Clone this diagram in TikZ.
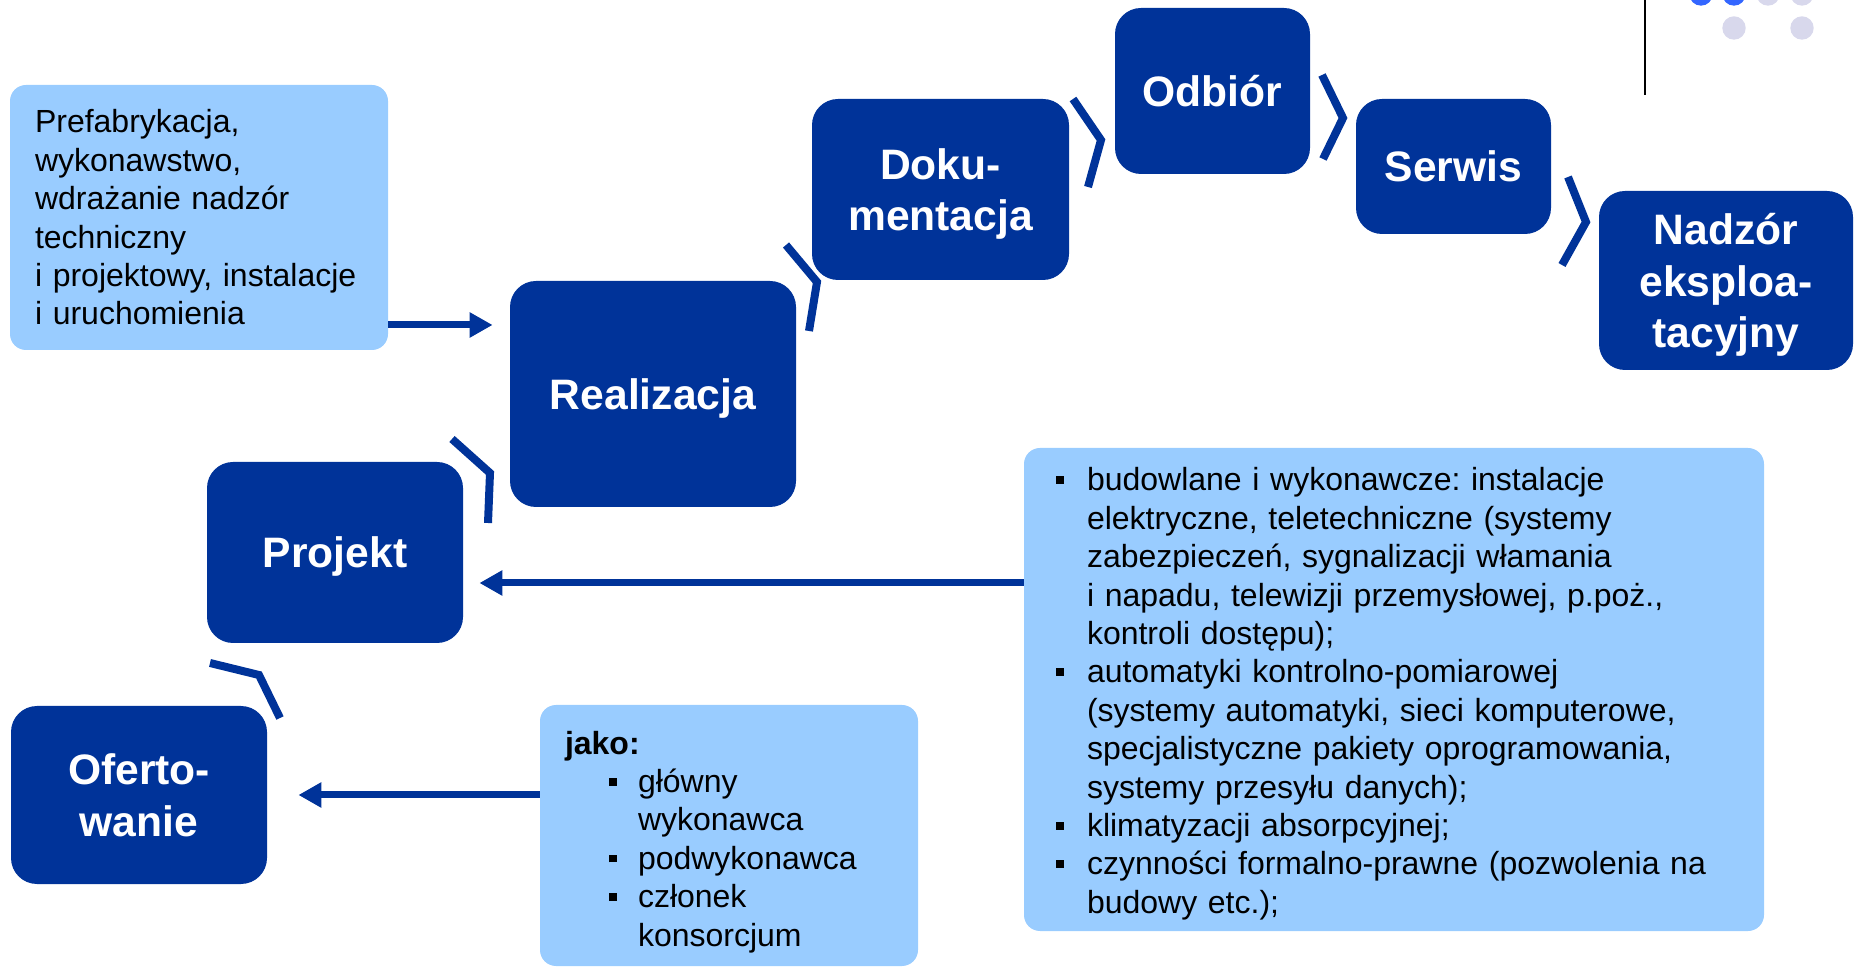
\documentclass[tikz,border=0pt]{standalone}
\usepackage{fontspec}
\setmainfont{Liberation Sans}
\usepackage{xcolor}
\definecolor{phaseblue}{RGB}{0,51,153}
\definecolor{noteblue}{RGB}{153,204,255}
\definecolor{dotblue}{RGB}{51,102,255}
\definecolor{dotgrey}{RGB}{216,216,236}
\usetikzlibrary{arrows.meta}
\newcommand{\sqbullet}[1]{\makebox[#1][l]{\rule[3.5pt]{3.8pt}{3.8pt}}}
\frenchspacing

\begin{document}
\begin{tikzpicture}[
    x=0.5pt, y=-0.5pt,
    phase/.style={rectangle, fill=phaseblue, rounded corners=13pt, text=white, align=center, inner sep=0pt, text depth=0pt, font={\fontsize{21.3}{25.7}\selectfont\bfseries}},
    note/.style={rectangle, fill=noteblue, rounded corners=8pt, align=left, inner ysep=0pt, font={\fontsize{16}{19.2}\selectfont}},
    arrow/.style={-{Triangle[length=11.5pt,width=12pt]}, line width=3.5pt, phaseblue},
    chev/.style={line width=4pt, phaseblue}
]
\useasboundingbox (0,0) rectangle (1854,967);

% stages
\node[phase, minimum width=128pt, minimum height=89pt] (oferto) at (139,795) {Oferto-\\wanie};
\node[phase, minimum width=128pt, minimum height=90.5pt] (projekt) at (335,552.5) {Projekt};
\node[phase, minimum width=143pt, minimum height=113pt] (realizacja) at (653,394) {Realizacja};
\node[phase, minimum width=128.5pt, minimum height=90.5pt] (dokumentacja) at (940.5,189.5) {Doku-\\mentacja};
\node[phase, minimum width=97.5pt, minimum height=83pt] (odbior) at (1212.5,91) {Odbiór};
\node[phase, minimum width=97.5pt, minimum height=67.5pt] (serwis) at (1453.5,166.5) {Serwis};
\node[phase, minimum width=127pt, minimum height=89.5pt] (nadzor) at (1726,280.5) {Nadzór\\eksploa-\\tacyjny};

% notes
\node[note, minimum width=189pt, minimum height=132.5pt, text width=164pt, inner xsep=12.5pt] (info) at (199,217.5)
  {Prefabrykacja,\\wykonawstwo,\\wdrażanie nadzór\\techniczny\\i projektowy, instalacje\\i uruchomienia};
\node[note, minimum width=370pt, minimum height=241.5pt, text width=338pt, inner xsep=16pt] (zakres) at (1394,689.5)
  {\vspace*{-5pt}\noindent\begin{tabular}{@{}l@{}l@{}}
  \sqbullet{15.5pt} & budowlane i wykonawcze: instalacje\\
  & elektryczne, teletechniczne (systemy\\
  & zabezpieczeń, sygnalizacji włamania\\
  & i napadu, telewizji przemysłowej, p.poż.,\\
  & kontroli dostępu);\\
  \sqbullet{15.5pt} & automatyki kontrolno-pomiarowej\\
  & (systemy automatyki, sieci komputerowe,\\
  & specjalistyczne pakiety oprogramowania,\\
  & systemy przesyłu danych);\\
  \sqbullet{15.5pt} & klimatyzacji absorpcyjnej;\\
  \sqbullet{15.5pt} & czynności formalno-prawne (pozwolenia na\\
  & budowy etc.);
  \end{tabular}};
\node[note, minimum width=189pt, minimum height=130.5pt, text width=164pt, inner xsep=12.5pt] (jako) at (729,835.5)
  {\vspace*{-7pt}\noindent\begin{tabular}{@{}l@{}l@{}}
  \multicolumn{2}{@{}l@{}}{\textbf{jako:}}\\
  \hspace*{22pt}\sqbullet{14.5pt} & główny\\
  & wykonawca\\
  \hspace*{22pt}\sqbullet{14.5pt} & podwykonawca\\
  \hspace*{22pt}\sqbullet{14.5pt} & członek\\
  & konsorcjum
  \end{tabular}};

% arrows
\draw[arrow, shorten >=8.5pt] ([yshift=-53.75pt]info.east) -- ([yshift=34.5pt]realizacja.west);
\draw[arrow, shorten >=8pt] ([yshift=53.25pt]zakres.west) -- ([yshift=-15.25pt]projekt.east);
\draw[arrow, shorten >=15.5pt] ([yshift=20.25pt]jako.west) -- (oferto.east);

% chevrons
\draw[chev] (210,663) -- (259,675) -- (280,718);
\draw[chev] (452,439) -- (490,473) -- (488,523);
\draw[chev] (786,245) -- (817,282) -- (809,331);
\draw[chev] (1073,99) -- (1101,140) -- (1088,187);
\draw[chev] (1322,75) -- (1343,118) -- (1323,159);
\draw[chev] (1568,177) -- (1586,222) -- (1562,265);

% corner decoration
\draw[line width=1.3pt] (1645,0) -- (1645,95);
\fill[dotblue] (1701,-6) circle[radius=5.85pt] (1734,-6) circle[radius=5.85pt];
\fill[dotgrey] (1768,-6) circle[radius=5.85pt] (1802,-6) circle[radius=5.85pt]
  (1734,28) circle[radius=5.85pt] (1802,28) circle[radius=5.85pt];
\end{tikzpicture}
\end{document}
